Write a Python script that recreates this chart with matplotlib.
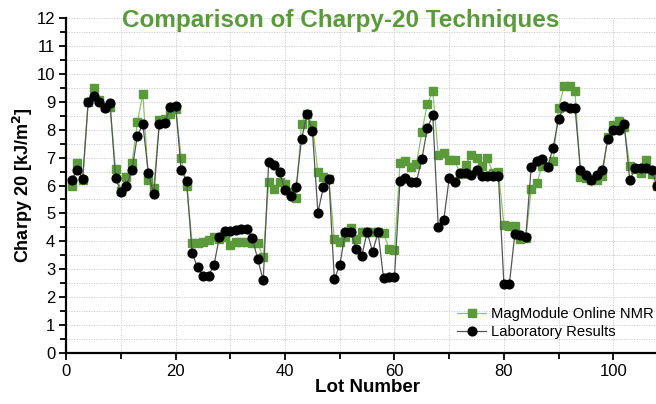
import numpy as np
import matplotlib
matplotlib.use("Agg")
import matplotlib.pyplot as plt
from matplotlib.ticker import MultipleLocator

plt.rcParams['font.family'] = ['Liberation Sans', 'DejaVu Sans']

# lot numbers 1..108
lots = np.arange(1, 109)

# MagModule online NMR (green squares)
nmr = [6.0, 6.8, 6.2, 9.0, 9.5, 9.07, 8.8, 8.8, 6.58, 5.8,
       6.3, 6.8, 8.27, 9.29, 6.2, 5.9, 8.33, 8.4, 8.57, 8.75,
       7.0, 5.98, 3.95, 3.93, 3.99, 4.05, 4.17, 4.07, 4.17, 3.87,
       3.99, 3.99, 3.99, 3.93, 3.93, 3.43, 6.13, 5.89, 6.13, 6.07,
       5.77, 5.54, 8.22, 8.55, 8.18, 6.49, 6.29, 6.25, 4.08, 3.97,
       4.17, 4.47, 4.1, 4.32, 4.34, 4.34, 4.34, 4.29, 3.74, 3.68,
       6.79, 6.86, 6.67, 6.77, 7.9, 8.93, 9.37, 7.1, 7.15, 6.92,
       6.92, 6.4, 6.75, 7.1, 6.97, 6.7, 6.97, 6.45, 6.5, 4.6,
       4.55, 4.55, 4.1, 4.12, 5.87, 6.08, 6.7, 6.7, 6.87, 8.77,
       9.57, 9.57, 9.37, 6.3, 6.28, 6.2, 6.18, 6.35, 7.75, 8.15,
       8.3, 8.1, 6.7, 6.6, 6.45, 6.9, 6.4, 6.0]

# laboratory results (black circles)
lab = [6.21, 6.57, 6.25, 8.99, 9.19, 8.99, 8.77, 8.95, 6.27, 5.77,
       5.98, 6.55, 7.79, 8.19, 6.45, 5.68, 8.19, 8.24, 8.81, 8.85,
       6.55, 6.17, 3.57, 3.07, 2.76, 2.76, 3.15, 4.17, 4.38, 4.38,
       4.40, 4.43, 4.43, 4.11, 3.36, 2.6, 6.85, 6.72, 6.47, 5.83,
       5.63, 5.93, 7.65, 8.55, 7.94, 5.03, 5.94, 6.25, 2.65, 3.14,
       4.32, 4.33, 3.74, 3.48, 4.32, 3.63, 4.32, 2.68, 2.74, 2.74,
       6.15, 6.28, 6.14, 6.14, 6.94, 8.05, 8.52, 4.52, 4.76, 6.26,
       6.14, 6.43, 6.43, 6.37, 6.54, 6.33, 6.33, 6.33, 6.33, 2.47,
       2.47, 4.27, 4.23, 4.16, 6.67, 6.88, 6.94, 6.67, 7.36, 8.39,
       8.83, 8.77, 8.79, 6.57, 6.37, 6.19, 6.37, 6.55, 7.68, 7.98,
       8.0, 8.19, 6.19, 6.61, 6.61, 6.61, 6.55, 5.98]

green = '#5a9a3a'

fig = plt.figure(figsize=(6.56, 4.04), dpi=100)
# axes run past the right edge of the figure, like the cropped original
ax = fig.add_axes([66.3/656, 51/404, 110*5.47/656, 335/404])

ax.plot(lots, nmr, color='#8cc46c', lw=0.9, marker='s', ms=5.8,
        mfc=green, mec=green, label='MagModule Online NMR', zorder=3)
ax.plot(lots, lab, color='#555555', lw=0.9, marker='o', ms=6.3,
        mfc='black', mec='black', label='Laboratory Results', zorder=4)

ax.set_xlim(0, 110)
ax.set_ylim(0, 12)
ax.xaxis.set_major_locator(MultipleLocator(20))
ax.xaxis.set_minor_locator(MultipleLocator(10))
ax.yaxis.set_major_locator(MultipleLocator(1))
ax.yaxis.set_minor_locator(MultipleLocator(0.5))

ax.grid(True, which='both', color='#c8c8c8', ls=(0, (1.5, 1.5)), lw=0.6)
ax.set_axisbelow(True)

for s in ['top', 'right']:
    ax.spines[s].set_visible(False)
for s in ['left', 'bottom']:
    ax.spines[s].set_linewidth(1.6)

ax.tick_params(which='major', direction='out', length=5, width=1.3,
               labelsize=12, pad=3)
ax.tick_params(which='minor', direction='out', length=4, width=1.3)

ax.set_xlabel('Lot Number', fontsize=13.5, fontweight='bold', labelpad=0)
ax.set_ylabel('Charpy 20 [kJ/m$^\\mathbf{2}$]', fontsize=13,
              fontweight='bold', labelpad=1)

fig.text(341/656, 1 - 20/404, 'Comparison of Charpy-20 Techniques',
         color=green, fontsize=17.5, fontweight='bold',
         ha='center', va='center')

ax.legend(loc='upper left', bbox_to_anchor=(457/656, 1 - 307/404),
          bbox_transform=fig.transFigure, frameon=False, fontsize=10.6,
          handlelength=2.0, handletextpad=0.3, labelspacing=0.25,
          borderpad=0, borderaxespad=0)

fig.savefig('out.png', dpi=100)
